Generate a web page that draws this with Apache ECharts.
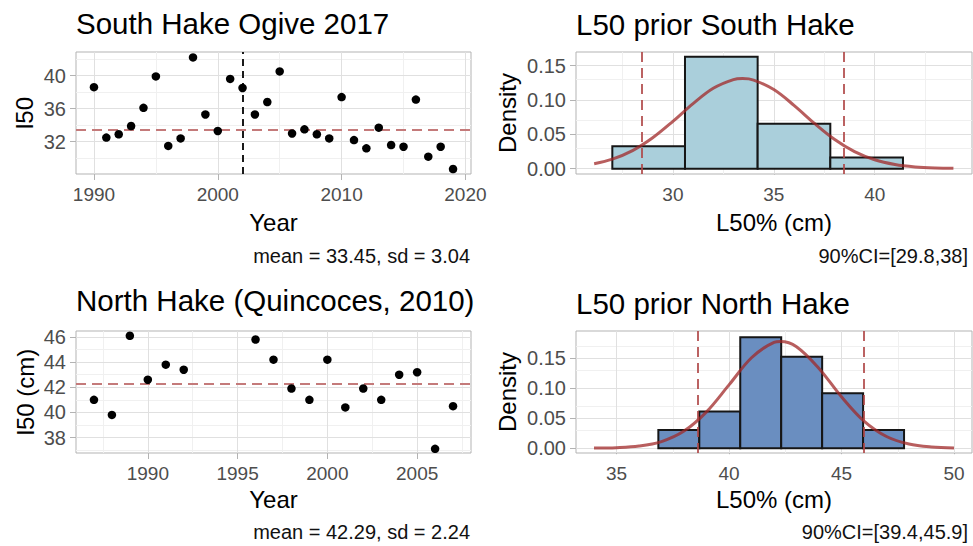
<!DOCTYPE html>
<html>
<head>
<meta charset="utf-8">
<title>Hake L50 priors</title>
<script src="https://cdn.jsdelivr.net/npm/echarts@6/dist/echarts.min.js"></script>
<style>
  html, body { margin: 0; padding: 0; background: #ffffff; }
  #chart { width: 973px; height: 546px; }
</style>
</head>
<body>
<div id="chart"></div>
<script>
// ---- South hake ogive (L50 by year) ----
const southYears = [1990, 1991, 1992, 1993, 1994, 1995, 1996, 1997, 1998, 1999,
                    2000, 2001, 2002, 2003, 2004, 2005, 2006, 2007, 2008, 2009,
                    2010, 2011, 2012, 2013, 2014, 2015, 2016, 2017, 2018, 2019];
const southL50 = [38.6, 32.5, 32.9, 33.9, 36.1, 39.9, 31.5, 32.4, 42.2, 35.3,
                  33.3, 39.6, 38.5, 35.3, 36.8, 40.5, 33.0, 33.5, 32.9, 32.4,
                  37.4, 32.2, 31.2, 33.7, 31.6, 31.4, 37.1, 30.2, 31.4, 28.7];
const southMean = 33.45;
const southSd = 3.04;
const southBreakYear = 2002;

// ---- South hake L50 prior (histogram + fitted density) ----
const southBinStart = [27.0, 30.6, 34.2, 37.8];
const southBinEnd = [30.6, 34.2, 37.8, 41.4];
const southDensity = [0.0327, 0.1630, 0.0654, 0.0163];
const southCurveX = [26.1, 27, 28, 29, 30, 31, 32, 33, 33.45, 34, 35, 36, 37, 38, 39, 40, 41, 42, 43, 43.9];
const southCurveY = [0.0071, 0.0138, 0.0263, 0.0450, 0.0689, 0.0948, 0.1171, 0.1298, 0.1312, 0.1291,
                     0.1152, 0.0923, 0.0663, 0.0428, 0.0248, 0.0129, 0.0060, 0.0025, 0.0009, 0.0004];
const southCI = [28.45, 38.45];
const southCIText = '90%CI=[29.8,38]';

// ---- North hake (Quincoces, 2010) ----
const northYears = [1987, 1988, 1989, 1990, 1991, 1992, 1996, 1997, 1998, 1999,
                    2000, 2001, 2002, 2003, 2004, 2005, 2006, 2007];
const northL50 = [41.0, 39.8, 46.1, 42.6, 43.8, 43.4, 45.8, 44.2, 41.9, 41.0,
                  44.2, 40.4, 41.9, 41.0, 43.0, 43.2, 37.1, 40.5];
const northMean = 42.29;
const northSd = 2.24;

// ---- North hake L50 prior ----
const northBinStart = [36.86, 38.68, 40.50, 42.32, 44.14, 45.96];
const northBinEnd = [38.68, 40.50, 42.32, 44.14, 45.96, 47.78];
const northDensity = [0.0305, 0.0611, 0.1850, 0.1526, 0.0916, 0.0305];
const northCurveX = [34, 35, 36, 37, 38, 39, 40, 41, 42, 42.29, 43, 44, 45, 46, 47, 48, 49, 50];
const northCurveY = [0.0002, 0.0009, 0.0035, 0.0110, 0.0285, 0.0606, 0.1056, 0.1509, 0.1766, 0.1781,
                     0.1694, 0.1331, 0.0857, 0.0452, 0.0195, 0.0069, 0.0020, 0.0005];
const northCI = [38.60, 45.97];
const northCIText = '90%CI=[39.4,45.9]';

// ---- Axis ticks and minor grid positions ----
const southYearTicks = [1990, 2000, 2010, 2020];
const southYearMinor = [1995, 2005, 2015];
const southL50Ticks = [32, 36, 40];
const southL50Minor = [30, 34, 38, 42];
const southLenTicks = [30, 35, 40];
const southLenMinor = [27.5, 32.5, 37.5, 42.5];
const densityTicks = [0, 0.05, 0.10, 0.15];
const southDensityMinor = [0.025, 0.075, 0.125];
const northYearTicks = [1990, 1995, 2000, 2005];
const northYearMinor = [1987.5, 1992.5, 1997.5, 2002.5, 2007.5];
const northL50Ticks = [38, 40, 42, 44, 46];
const northL50Minor = [37, 39, 41, 43, 45];
const northLenTicks = [35, 40, 45, 50];
const northLenMinor = [37.5, 42.5, 47.5];
const northDensityMinor = [0.025, 0.075, 0.125, 0.175];

const FONT = "'Liberation Sans', Arial, sans-serif";
const TICK_GREY = '#4d4d4d';
const BORDER = '#b3b3b3';
const MAJOR_GRID = '#e0e0e0';
const MINOR_GRID = '#f0f0f0';
const MEAN_RED = '#c47a7a';
const CURVE_RED = 'rgba(160, 40, 40, 0.75)';
const CI_RED = 'rgba(175, 70, 70, 0.85)';

const grids = [
  { left: 76,  top: 52,  width: 395, height: 122 },
  { left: 576, top: 52,  width: 396, height: 122 },
  { left: 76,  top: 331, width: 395, height: 122 },
  { left: 576, top: 331, width: 396, height: 122 }
].map(g => Object.assign({ show: true, borderColor: BORDER, borderWidth: 1, backgroundColor: 'transparent', containLabel: false }, g));

function axis(gi, dim, min, max, ticks, fmt) {
  const isX = dim === 'x';
  return {
    type: 'value', gridIndex: gi, min: min, max: max, scale: true,
    axisLine: { show: false },
    axisTick: { show: true, customValues: ticks, length: 6, lineStyle: { color: BORDER, width: 1 } },
    axisLabel: {
      show: true, customValues: ticks, color: TICK_GREY, fontFamily: FONT,
      fontSize: isX ? 19 : 20, margin: isX ? 11 : 10,
      formatter: fmt || (v => String(v)), showMinLabel: true, showMaxLabel: true
    },
    splitLine: { show: false },
    minorSplitLine: { show: false }
  };
}

// light panel grid: minor lines between the labelled ones
function gridLines(gi, xMajor, xMinor, yMajor, yMinor) {
  const minor = { color: MINOR_GRID, width: 1, type: 'solid' };
  const major = { color: MAJOR_GRID, width: 1, type: 'solid' };
  const data = []
    .concat(xMinor.map(v => ({ xAxis: v, lineStyle: minor })))
    .concat(yMinor.map(v => ({ yAxis: v, lineStyle: minor })))
    .concat(xMajor.map(v => ({ xAxis: v, lineStyle: major })))
    .concat(yMajor.map(v => ({ yAxis: v, lineStyle: major })));
  return {
    type: 'line', xAxisIndex: gi, yAxisIndex: gi, data: [], z: 1, silent: true,
    markLine: { z: 1, silent: true, symbol: ['none', 'none'], label: { show: false }, animation: false, data: data }
  };
}

function refLines(gi, lines, z) {
  return {
    type: 'line', xAxisIndex: gi, yAxisIndex: gi, data: [], z: z, silent: true,
    markLine: { z: z, silent: true, symbol: ['none', 'none'], label: { show: false }, animation: false, data: lines }
  };
}

function histogram(gi, starts, ends, dens, fill) {
  return {
    type: 'custom', xAxisIndex: gi, yAxisIndex: gi, z: 2, silent: true,
    data: starts.map((s, i) => [s, ends[i], dens[i]]),
    encode: { x: [0, 1], y: 2 },
    renderItem: function (params, api) {
      const p0 = api.coord([api.value(0), api.value(2)]);
      const p1 = api.coord([api.value(1), 0]);
      return {
        type: 'rect',
        shape: { x: p0[0], y: p0[1], width: p1[0] - p0[0], height: p1[1] - p0[1] },
        style: { fill: fill, stroke: '#161616', lineWidth: 2 }
      };
    }
  };
}

function points(gi, xs, ys) {
  return {
    type: 'scatter', xAxisIndex: gi, yAxisIndex: gi, z: 4, silent: true,
    symbolSize: 8.5, itemStyle: { color: '#000000', opacity: 1 },
    data: xs.map((x, i) => [x, ys[i]])
  };
}

function curve(gi, xs, ys) {
  return {
    type: 'line', xAxisIndex: gi, yAxisIndex: gi, z: 4, silent: true,
    showSymbol: false, smooth: 0.35,
    lineStyle: { color: CURVE_RED, width: 3 },
    data: xs.map((x, i) => [x, ys[i]])
  };
}

const densFmt = v => v.toFixed(2);

function txt(x, y, text, size, opts) {
  opts = opts || {};
  const align = opts.align || 'left';
  return {
    type: 'text', x: x, y: y, rotation: opts.rotation || 0, silent: true, z: 10,
    style: {
      text: text, font: size + 'px ' + FONT, fill: opts.color || '#000000',
      textAlign: align, align: align, textVerticalAlign: 'middle', verticalAlign: 'middle'
    }
  };
}

const option = {
  animation: false,
  backgroundColor: '#ffffff',
  grid: grids,
  xAxis: [
    axis(0, 'x', 1988.55, 2020.45, southYearTicks),
    axis(1, 'x', 25.2, 44.82, southLenTicks),
    axis(2, 'x', 1986, 2008, northYearTicks),
    axis(3, 'x', 33.2, 50.8, northLenTicks)
  ],
  yAxis: [
    axis(0, 'y', 28.1, 42.85, southL50Ticks),
    axis(1, 'y', -0.0078, 0.170, densityTicks, densFmt),
    axis(2, 'y', 36.77, 46.48, northL50Ticks),
    axis(3, 'y', -0.008, 0.1955, densityTicks, densFmt)
  ],
  series: [
    gridLines(0, southYearTicks, southYearMinor, southL50Ticks, southL50Minor),
    gridLines(1, southLenTicks, southLenMinor, densityTicks, southDensityMinor),
    gridLines(2, northYearTicks, northYearMinor, northL50Ticks, northL50Minor),
    gridLines(3, northLenTicks, northLenMinor, densityTicks, northDensityMinor),

    // top-left: yearly L50, mean line and 2002 break
    refLines(0, [
      { yAxis: southMean, lineStyle: { color: MEAN_RED, width: 2, type: [10, 6] } },
      { xAxis: southBreakYear, lineStyle: { color: '#1a1a1a', width: 2, type: [7, 5] } }
    ], 3),
    points(0, southYears, southL50),

    // top-right: prior histogram
    histogram(1, southBinStart, southBinEnd, southDensity, '#aacfdb'),
    curve(1, southCurveX, southCurveY),
    refLines(1, southCI.map(v => ({ xAxis: v, lineStyle: { color: CI_RED, width: 2, type: [10, 6] } })), 5),

    // bottom-left: north yearly L50
    refLines(2, [
      { yAxis: northMean, lineStyle: { color: MEAN_RED, width: 2, type: [10, 6] } }
    ], 3),
    points(2, northYears, northL50),

    // bottom-right: north prior histogram
    histogram(3, northBinStart, northBinEnd, northDensity, '#6a8ec0'),
    curve(3, northCurveX, northCurveY),
    refLines(3, northCI.map(v => ({ xAxis: v, lineStyle: { color: CI_RED, width: 2, type: [10, 6] } })), 5)
  ],
  graphic: [
    txt(76, 23, 'South Hake Ogive 2017', 29.5),
    txt(576, 24, 'L50 prior South Hake', 29.5),
    txt(76, 300, 'North Hake (Quincoces, 2010)', 29.5),
    txt(576, 303, 'L50 prior North Hake', 29.5),

    txt(24, 113, 'l50', 24, { align: 'center', rotation: Math.PI / 2 }),
    txt(507, 113, 'Density', 24, { align: 'center', rotation: Math.PI / 2 }),
    txt(25, 392, 'l50 (cm)', 24, { align: 'center', rotation: Math.PI / 2 }),
    txt(507, 392, 'Density', 24, { align: 'center', rotation: Math.PI / 2 }),

    txt(273.5, 222, 'Year', 24, { align: 'center' }),
    txt(774, 222, 'L50% (cm)', 24, { align: 'center' }),
    txt(273.5, 499, 'Year', 24, { align: 'center' }),
    txt(774, 499, 'L50% (cm)', 24, { align: 'center' }),

    txt(470, 256, 'mean = ' + southMean.toFixed(2) + ', sd = ' + southSd.toFixed(2), 20, { align: 'right', color: '#111111' }),
    txt(968, 256, southCIText, 20, { align: 'right', color: '#111111' }),
    txt(470, 532, 'mean = ' + northMean.toFixed(2) + ', sd = ' + northSd.toFixed(2), 20, { align: 'right', color: '#111111' }),
    txt(968, 532, northCIText, 20, { align: 'right', color: '#111111' })
  ]
};

const chart = echarts.init(document.getElementById('chart'), null, { renderer: 'svg' });
chart.setOption(option);
</script>
</body>
</html>
